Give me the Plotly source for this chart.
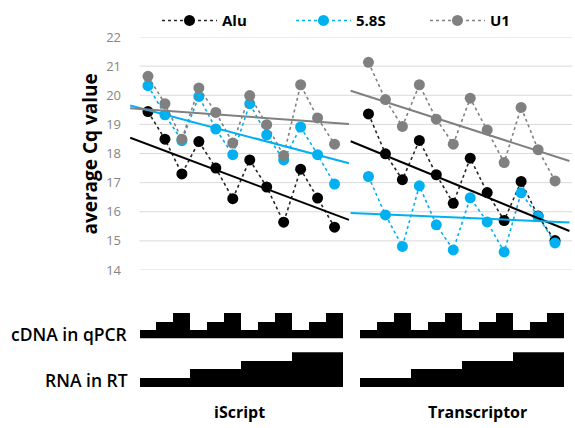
import plotly.graph_objects as go

# ---------------- data ----------------
x_iscript = list(range(0, 12))
x_transcriptor = list(range(13, 25))
x_gap = [12]

alu_iscript = [19.44, 18.49, 17.30, 18.41, 17.50, 16.45, 17.78, 16.85, 15.64, 17.46, 16.47, 15.47]
s58_iscript = [20.33, 19.33, 18.44, 19.96, 18.84, 17.96, 19.71, 18.64, 17.78, 18.91, 17.96, 16.95]
u1_iscript = [20.65, 19.71, 18.49, 20.25, 19.41, 18.36, 19.99, 18.99, 17.93, 20.36, 19.22, 18.32]

alu_transcriptor = [19.36, 17.99, 17.10, 18.45, 17.27, 16.29, 17.84, 16.66, 15.70, 17.04, 15.85, 15.01]
s58_transcriptor = [17.21, 15.89, 14.81, 16.89, 15.55, 14.69, 16.48, 15.65, 14.62, 16.65, 15.84, 14.93]
u1_transcriptor = [21.13, 19.85, 18.93, 20.36, 19.18, 18.32, 19.90, 18.81, 17.69, 19.58, 18.13, 17.06]

# linear trend lines: (value at first point, slope per step)
trend_iscript = {"Alu": (18.31, -0.2185), "5.8S": (19.49, -0.154), "U1": (19.51, -0.042)}
trend_transcriptor = {"Alu": (18.17, -0.239), "5.8S": (15.93, -0.025), "U1": (19.96, -0.187)}
trend_before = 1.05
trend_after = 0.85

# dilution schemes
cdna_levels = [1, 2, 3, 1, 2, 3, 1, 2, 3, 1, 2, 3]
rna_levels = [1, 1, 1, 2, 2, 2, 3, 3, 3, 4, 4, 4]

y_ticks = [14, 15, 16, 17, 18, 19, 20, 21, 22]
panel_labels = ["iScript", "Transcriptor"]
row_labels = ["cDNA in qPCR", "RNA in RT"]

series = [
    ("Alu", "#000000", "#262626", alu_iscript, alu_transcriptor),
    ("5.8S", "#00B0F0", "#00B0F0", s58_iscript, s58_transcriptor),
    ("U1", "#808080", "#808080", u1_iscript, u1_transcriptor),
]

FONT = "Open Sans"

fig = go.Figure()

x_all = x_iscript + x_gap + x_transcriptor
for name, mcolor, lcolor, vi, vt in series:
    fig.add_trace(go.Scatter(
        x=x_all, y=vi + [None] + vt, name=name, mode="lines+markers",
        connectgaps=False,
        line=dict(color=lcolor, width=1.6, dash="dot"),
        marker=dict(size=11, color=mcolor),
        hoverinfo="skip",
    ))

tcolors = {"Alu": "#000000", "5.8S": "#00B0F0", "U1": "#808080"}
for xs, trend in ((x_iscript, trend_iscript), (x_transcriptor, trend_transcriptor)):
    for name, (b0, slope) in trend.items():
        xa = xs[0] - trend_before
        xb = xs[-1] + trend_after
        fig.add_trace(go.Scatter(
            x=[xa, xb],
            y=[b0 + slope * (xa - xs[0]), b0 + slope * (xb - xs[0])],
            mode="lines", line=dict(color=tcolors[name], width=2),
            showlegend=False, hoverinfo="skip",
        ))

x_bars = x_iscript + x_transcriptor
fig.add_trace(go.Bar(x=x_bars, y=cdna_levels * 2, yaxis="y2", width=1,
                     marker=dict(color="black", line=dict(width=0)),
                     showlegend=False, hoverinfo="skip"))
fig.add_trace(go.Bar(x=x_bars, y=rna_levels * 2, yaxis="y3", width=1,
                     marker=dict(color="black", line=dict(width=0)),
                     showlegend=False, hoverinfo="skip"))

shapes = [dict(type="line", xref="x", yref="y", x0=-0.5, x1=25.0, y0=t, y1=t,
               line=dict(color="#D9D9D9", width=1), layer="below") for t in y_ticks]

L, R, T, B = 130, 2.5, 37, 41
W, H = 575, 428
pw = W - L - R
ph = H - T - B


def px_x(px):
    return (px - L) / pw


def px_y(py):
    return (H - B - py) / ph


annotations = [
    dict(text="average Cq value", x=px_x(89), y=px_y(154.5), xref="paper", yref="paper",
         textangle=-90, showarrow=False, xanchor="center", yanchor="middle",
         font=dict(family=FONT, size=19, color="black", weight=700)),
    dict(text=row_labels[0], x=px_x(130), y=px_y(334), xref="paper", yref="paper",
         showarrow=False, xanchor="right", yanchor="middle",
         font=dict(family=FONT, size=17.5, color="black", weight=600)),
    dict(text=row_labels[1], x=px_x(130), y=px_y(380), xref="paper", yref="paper",
         showarrow=False, xanchor="right", yanchor="middle",
         font=dict(family=FONT, size=17.5, color="black", weight=600)),
    dict(text=panel_labels[0], x=px_x(240), y=px_y(412), xref="paper", yref="paper",
         showarrow=False, xanchor="center", yanchor="middle",
         font=dict(family=FONT, size=16, color="black", weight=700)),
    dict(text=panel_labels[1], x=px_x(478), y=px_y(412), xref="paper", yref="paper",
         showarrow=False, xanchor="center", yanchor="middle",
         font=dict(family=FONT, size=16, color="black", weight=700)),
]

fig.update_layout(
    width=W, height=H,
    margin=dict(l=L, r=R, t=T, b=B, pad=0, autoexpand=False),
    paper_bgcolor="white", plot_bgcolor="white",
    bargap=0,
    showlegend=True,
    legend=dict(orientation="h", x=px_x(157), xanchor="left", y=px_y(20.7), yanchor="middle",
                font=dict(family=FONT, size=15, color="black", weight=700),
                itemwidth=55, entrywidth=64, entrywidthmode="pixels",
                bgcolor="rgba(0,0,0,0)"),
    xaxis=dict(range=[-1.06, 25.0], visible=False, domain=[0, 1]),
    yaxis=dict(range=[14, 22], domain=[px_y(270), 1], tickvals=y_ticks,
               showgrid=False, zeroline=False, showline=False, ticks="",
               ticklabelstandoff=8,
               tickfont=dict(family=FONT, size=13, color="#858585")),
    yaxis2=dict(range=[0, 3], domain=[px_y(338.3), px_y(312.7)], anchor="x", visible=False),
    yaxis3=dict(range=[0, 4], domain=[0, px_y(352.2)], anchor="x", visible=False),
    shapes=shapes,
    annotations=annotations,
)

fig.write_html(
    "out.html",
    config={"displayModeBar": False},
    post_script="document.body.style.margin='0';document.body.style.overflow='hidden';",
)
